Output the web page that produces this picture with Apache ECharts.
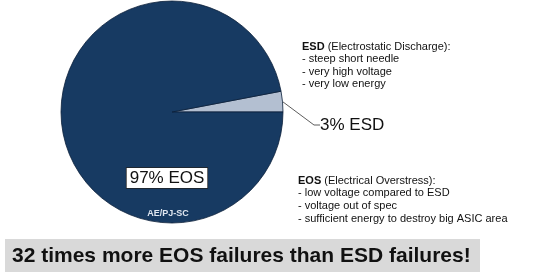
<!DOCTYPE html>
<html><head><meta charset="utf-8">
<script src="https://cdn.jsdelivr.net/npm/echarts@6/dist/echarts.min.js"></script>
<style>html,body{margin:0;padding:0;background:#fff}#c{width:547px;height:279px}</style>
</head><body><div id="c"></div>
<script>
const categories = ['ESD', 'EOS'];
const values = [3, 97];
const sliceLabels = ['3% ESD', '97% EOS'];
const colors = ['#b3bfd1', '#173a62'];
const esdTitle = 'ESD';
const esdSub = ' (Electrostatic Discharge):';
const esdLines = ['- steep short needle', '- very high voltage', '- very low energy'];
const eosTitle = 'EOS';
const eosSub = ' (Electrical Overstress):';
const eosLines = ['- low voltage compared to ESD', '- voltage out of spec', '- sufficient energy to destroy big ASIC area'];
const banner = '32 times more EOS failures than ESD failures!';
const stamp = 'AE/PJ-SC';

const total = values.reduce((a, b) => a + b, 0);
const font = '"Liberation Sans", Arial, sans-serif';
const chart = echarts.init(document.getElementById('c'));

function block(title, sub, lines) {
  return '{b|' + title + '}{n|' + sub + '}\n' + lines.map(l => '{n|' + l + '}').join('\n');
}

chart.setOption({
  animation: false,
  series: [{
    type: 'pie',
    center: [172, 112],
    radius: 111,
    startAngle: values[0] / total * 360,
    clockwise: true,
    silent: true,
    itemStyle: { borderColor: '#0b1f3a', borderWidth: 0.8 },
    data: categories.map((c, i) => ({
      name: c, value: values[i],
      itemStyle: { color: colors[i] },
      label: i === 0 ? {
        show: true, position: 'outside', formatter: sliceLabels[i],
        fontFamily: font, fontSize: 17, color: '#111'
      } : {
        show: true, position: 'inside', formatter: sliceLabels[i], overflow: 'none',
        fontFamily: font, fontSize: 17, color: '#111',
        backgroundColor: '#fff', borderColor: '#222', borderWidth: 0.8,
        padding: [2, 3, 1, 3]
      },
      labelLine: i === 0 ? { show: true, lineStyle: { color: '#333', width: 0.8 } } : { show: false }
    })),
    labelLayout: function (p) {
      if (p.dataIndex === 0) return { x: 320, y: 125, align: 'left', verticalAlign: 'middle' };
      return { x: 167, y: 178, align: 'center', verticalAlign: 'middle' };
    },
    labelLine: { length: 20, length2: 6 }
  }],
  graphic: [
    { type: 'text', left: 302, top: 41, style: {
      text: block(esdTitle, esdSub, esdLines), fontFamily: font, fill: '#111',
      rich: { b: { fontWeight: 'bold', fontSize: 11, lineHeight: 12.6, fontFamily: font },
              n: { fontSize: 11, lineHeight: 12.6, fontFamily: font } } } },
    { type: 'text', left: 298, top: 175, style: {
      text: block(eosTitle, eosSub, eosLines), fontFamily: font, fill: '#111',
      rich: { b: { fontWeight: 'bold', fontSize: 11, lineHeight: 12.7, fontFamily: font },
              n: { fontSize: 11, lineHeight: 12.7, fontFamily: font } } } },
    { type: 'text', x: 168, y: 214, z: 100, style: { text: stamp, fontFamily: font, fontSize: 9, fontWeight: 'bold',
      fill: '#dfe6f0', align: 'center', verticalAlign: 'middle' } },
    { type: 'rect', shape: { x: 5, y: 239, width: 475, height: 33 }, style: { fill: '#d9d9d9' } },
    { type: 'text', x: 12, y: 256, style: { text: banner, fontFamily: font, fontSize: 21, fontWeight: 'bold',
      fill: '#111', verticalAlign: 'middle' } }
  ]
});
</script></body></html>
